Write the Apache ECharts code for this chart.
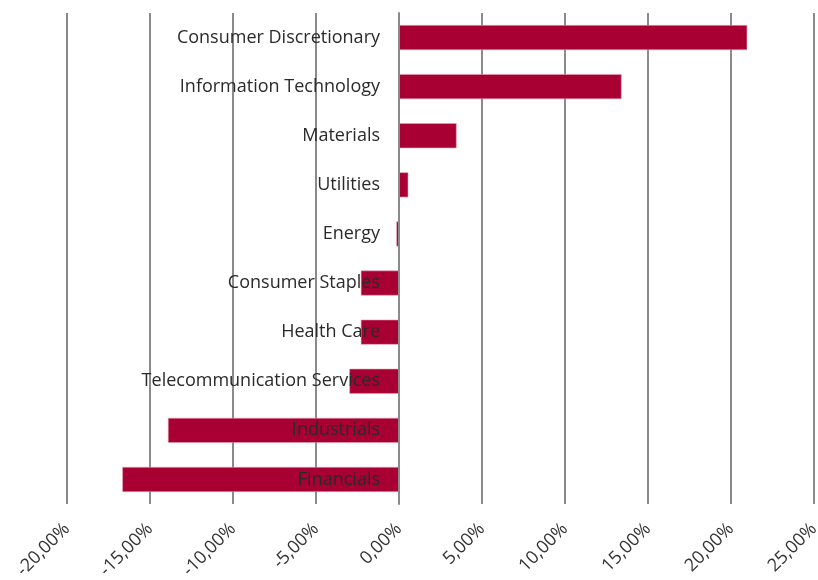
<!DOCTYPE html>
<html>
<head>
<meta charset="utf-8">
<script src="https://cdn.jsdelivr.net/npm/echarts@6/dist/echarts.min.js"></script>
<style>
  html, body { margin: 0; padding: 0; background: #fff; }
  #chart { width: 818px; height: 580px; }
</style>
</head>
<body>
<div id="chart"></div>
<script>
// sectors, top to bottom
const sectors = [
  'Consumer Discretionary',
  'Information Technology',
  'Materials',
  'Utilities',
  'Energy',
  'Consumer Staples',
  'Health Care',
  'Telecommunication Services',
  'Industrials',
  'Financials'
];
// relative performance in %
const perf = [20.98, 13.41, 3.47, 0.56, -0.16, -2.3, -2.3, -2.99, -13.92, -16.67];

const chart = echarts.init(document.getElementById('chart'));

// grid: -20% at x=67, 25% at x=814 -> zero sits 332px right of grid left
const zeroOffset = 332;

chart.setOption({
  animation: false,
  grid: { left: 67, right: 4, top: 13, bottom: 76, containLabel: false, outerBoundsMode: 'none' },
  xAxis: {
    type: 'value',
    min: -20,
    max: 25,
    interval: 5,
    axisLine: { show: false },
    axisTick: { show: false },
    splitLine: { show: true, lineStyle: { color: '#8a8a8a', width: 2 } },
    axisLabel: {
      rotate: 45,
      margin: 22,
      fontFamily: 'Open Sans',
      fontSize: 18,
      color: '#333',
      formatter: v => v.toFixed(2).replace('.', ',') + '%'
    }
  },
  yAxis: {
    type: 'category',
    data: sectors,
    inverse: true,
    z: 10,
    offset: -zeroOffset,
    axisLine: { show: true, onZero: false, lineStyle: { color: '#8a8a8a', width: 2 } },
    axisTick: { show: false },
    axisLabel: {
      margin: 19,
      fontFamily: 'Open Sans',
      fontSize: 18,
      color: '#2a2a2a'
    }
  },
  series: [{
    type: 'bar',
    data: perf,
    barWidth: 25,
    itemStyle: { color: '#a80032', borderColor: '#e6a0b4', borderWidth: 0.6 }
  }]
});
</script>
</body>
</html>
